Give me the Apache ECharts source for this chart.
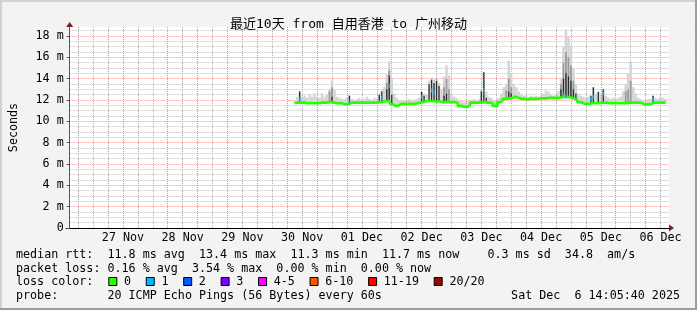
<!DOCTYPE html>
<html><head><meta charset="utf-8">
<script src="https://cdn.jsdelivr.net/npm/echarts@6/dist/echarts.min.js"></script>
<style>html,body{margin:0;padding:0;background:#f3f3f3}#c{width:697px;height:310px}</style>
</head><body><div id="c"></div>
<script>
// ---- data (hours counted from 27 Nov 00:00) ----
const startHour = 81; // first sample: 30 Nov 09:00, hourly samples
const median = [
 11.7, 11.75, 11.75, 11.75, 11.75, 11.7, 11.7, 11.7, 11.7, 11.7,
 11.7, 11.75, 11.75, 11.75, 11.8, 11.8, 11.75, 11.7, 11.7, 11.7,
 11.6, 11.6, 11.65, 11.75, 11.75, 11.75, 11.75, 11.75, 11.75, 11.75,
 11.75, 11.75, 11.75, 11.75, 11.8, 11.8, 11.85, 11.9, 11.9, 11.6,
 11.45, 11.45, 11.6, 11.65, 11.65, 11.65, 11.65, 11.65, 11.65, 11.7,
 11.75, 11.8, 11.85, 11.9, 11.9, 11.9, 11.85, 11.85, 11.85, 11.8,
 11.8, 11.8, 11.8, 11.8, 11.8, 11.7, 11.45, 11.4, 11.35, 11.35,
 11.5, 11.75, 11.75, 11.75, 11.75, 11.8, 11.8, 11.75, 11.75, 11.7,
 11.45, 11.45, 11.8, 11.9, 12.1, 12.15, 12.15, 12.2, 12.3, 12.25,
 12.15, 12.1, 12.1, 12.05, 12.1, 12.1, 12.1, 12.1, 12.15, 12.15,
 12.15, 12.15, 12.2, 12.2, 12.2, 12.2, 12.2, 12.25, 12.3, 12.3,
 12.25, 12.2, 12.1, 12.0, 11.8, 11.75, 11.65, 11.65, 11.65, 11.7,
 11.7, 11.7, 11.7, 11.75, 11.75, 11.75, 11.7, 11.7, 11.7, 11.7,
 11.7, 11.7, 11.7, 11.7, 11.75, 11.75, 11.75, 11.75, 11.75, 11.7,
 11.6, 11.6, 11.6, 11.65, 11.75, 11.75, 11.75, 11.75, 11.75, 11.75
];
const smokeMax = [
 11.9, 12.3, 12.8, 12.3, 12.4, 12.2, 12.5, 12.3, 12.6, 12.3,
 12.2, 12.6, 12.3, 12.5, 13.0, 13.85, 13.0, 12.3, 12.2, 12.1,
 12.1, 12.2, 12.4, 12.1, 12.0, 12.1, 12.2, 12.0, 12.1, 12.3,
 12.1, 12.0, 12.2, 12.1, 12.6, 12.9, 13.2, 14.4, 15.6, 14.0,
 12.6, 12.2, 12.0, 12.0, 11.9, 12.0, 12.1, 11.9, 12.0, 12.1,
 12.2, 12.75, 12.6, 12.5, 13.8, 14.1, 13.9, 14.0, 13.6, 13.0,
 14.2, 15.25, 14.3, 12.6, 12.3, 12.2, 12.0, 11.9, 11.8, 11.9,
 12.0, 12.0, 12.1, 12.0, 12.1, 13.0, 14.6, 12.8, 12.3, 12.2,
 12.0, 12.0, 12.2, 12.6, 13.2, 13.4, 15.7, 14.5, 13.5, 13.2,
 12.8, 12.5, 12.4, 12.4, 12.3, 12.4, 12.3, 12.4, 12.3, 12.4,
 12.6, 12.9, 12.8, 12.5, 12.4, 12.5, 12.8, 14.0, 17.0, 18.6,
 17.9, 17.0, 15.0, 13.5, 12.6, 12.4, 12.3, 12.2, 12.3, 12.4,
 13.2, 12.6, 12.8, 12.6, 13.0, 12.4, 12.2, 12.1, 12.2, 12.1,
 12.2, 12.3, 12.8, 13.5, 14.5, 15.6, 13.2, 12.6, 12.2, 12.1,
 12.0, 12.0, 12.1, 12.1, 12.4, 12.2, 12.1, 12.3, 12.2, 12.1
];
const midSmoke = [[95,12.8],[96,13.2],[118,13.6],[119,14.8],[141,13.2],[142,14.0],[143,13.0],
 [166,12.9],[167,14.0],[168,13.2],[188,13.5],[189,15.5],[190,16.5],[191,16.0],[192,15.2],[193,13.8],
 [214,12.8],[215,13.0],[216,13.8]];
const darkSpikes = [[83,12.8],[96,12.3],[103,12.4],[115,12.5],[116,12.8],[118,13.0],[119,14.3],[120,12.5],
 [132,12.75],[133,12.4],[135,13.5],[136,13.9],[137,13.6],[138,13.8],[139,13.3],[141,12.4],[142,12.6],
 [156,12.8],[157,14.6],[158,12.2],[167,12.8],[168,12.6],[188,13.0],[189,14.0],[190,14.5],[191,14.2],
 [192,13.8],[193,13.0],[194,12.6],[200,12.4],[201,13.2],[203,12.75],[205,13.0],[225,12.4]];
const lossMarks = [[83,12.1],[103,11.75],[116,12.2],[119,13.3],[132,12.3],[136,12.9],[137,12.7],
 [157,12.9],[189,12.5],[190,12.3],[200,12.1],[201,12.3],[205,12.6],[225,12.0]];

const dayLabels = ['27 Nov','28 Nov','29 Nov','30 Nov','01 Dec','02 Dec','03 Dec','04 Dec','05 Dec','06 Dec'];
const dayLabelHours = [12,36,60,84,108,132,156,180,204,228];
const dayStartHours = [0,24,48,72,96,120,144,168,192,216];
const yMajor = [0,2,4,6,8,10,12,14,16,18];

const titleText = '最近10天 from 自用香港 to 广州移动';
const rttStats = ['11.8','13.4','11.3','11.7','0.3','34.8'];
const lossStats = ['0.16','3.54','0.00','0.00'];
const lossColors = [['0','#26ff00'],['1','#00b8ff'],['2','#0059ff'],['3','#7e00ff'],['4-5','#ff00ff'],['6-10','#ff5500'],['11-19','#ff0000'],['20/20','#a10000']];
const probeText = '20 ICMP Echo Pings (56 Bytes) every 60s';
const stampText = 'Sat Dec  6 14:05:40 2025';

// ---- build ----
const MONO = "'DejaVu Sans Mono','Noto Sans CJK SC',monospace";
const FS = 11.7;
const quarterHours = []; for (let h = -6; h <= 228; h += 6) if (h % 24 !== 0) quarterHours.push(h);
const yMinor = []; for (let v = 0; v <= 18.5; v += 0.5) if (v % 2 !== 0) yMinor.push(v);

const hours = median.map((_, i) => startHour + i);
const medAt = h => median[h - startHour];
const lightData = hours.map((h, i) => [h, median[i], smokeMax[i]]);
const midData = midSmoke.map(([h, v]) => [h, medAt(h), v]);
const darkData = darkSpikes.map(([h, v]) => [h, medAt(h), v]);

function rects(data, color, frac, z) {
  return { type: 'custom', data, z, silent: true,
    renderItem(params, api) {
      const h = api.value(0), lo = api.value(1), hi = api.value(2);
      const a = api.coord([h - frac / 2, hi]), b = api.coord([h + frac / 2, lo]);
      return { type: 'rect', shape: { x: a[0], y: a[1], width: b[0] - a[0], height: b[1] - a[1] }, style: { fill: color } };
    } };
}

const chart = echarts.init(document.getElementById('c'), null, { renderer: 'canvas' });
const X0 = -9.4, X1 = 231.4, Y1 = 18.84;
const minorLine = { show: true, lineStyle: { color: '#c4c4c4', type: [1, 1], width: 1 } };
const majorLine = { show: true, lineStyle: { color: '#f09a9a', type: [1, 1], width: 1 } };
const option = {
  backgroundColor: '#f3f3f3',
  animation: false,
  title: { text: titleText, left: 'center', top: 13, textStyle: { fontFamily: MONO, fontSize: 13, fontWeight: 'normal', color: '#000' } },
  grid: { left: 67, right: 28, top: 27, bottom: 82, show: true, backgroundColor: '#fff', borderWidth: 0 },
  xAxis: {
    type: 'value', min: X0, max: X1, position: 'bottom',
    axisLine: { show: true, onZero: false, lineStyle: { color: '#000', width: 1 } },
    axisTick: { show: false, customValues: dayStartHours },
    axisLabel: { customValues: dayLabelHours, margin: 4, fontFamily: MONO, fontSize: FS, color: '#000',
      formatter: v => dayLabels[dayLabelHours.indexOf(v)] || '' },
    splitLine: majorLine },
  yAxis: [
    { type: 'value', min: 0, max: Y1, position: 'left',
      axisLine: { show: true, onZero: false, lineStyle: { color: '#555', width: 1 } },
      axisTick: { show: true, customValues: yMajor, length: 3, lineStyle: { color: '#555' } },
      axisLabel: { customValues: yMajor, margin: 6, fontFamily: MONO, fontSize: FS, color: '#000',
        formatter: v => v === 0 ? '0' : v + ' m' },
      splitLine: majorLine,
      name: 'Seconds', nameLocation: 'middle', nameGap: 50, nameRotate: 90,
      nameTextStyle: { fontFamily: MONO, fontSize: FS, color: '#000' } },
    { type: 'value', min: 0, max: Y1, position: 'right', axisLine: { show: false }, axisLabel: { show: false },
      axisTick: { show: false, customValues: yMinor }, splitLine: minorLine }
  ],
  series: [
    { type: 'line', silent: true, data: [], symbol: 'none',
      markLine: { silent: true, symbol: 'none', label: { show: false }, animation: false,
        lineStyle: { color: '#a8a8a8', type: [1, 1], width: 1 },
        emphasis: { disabled: true },
        data: quarterHours.map(h => ({ xAxis: h })) } },
    rects(lightData, '#d4d4d4', 1.0, 3),
    rects(midData, '#9a9a9a', 0.7, 4),
    rects(darkData, '#2a2a2a', 0.5, 5),
    { type: 'line', z: 6, step: 'middle', symbol: 'none', silent: true,
      data: hours.map((h, i) => [h, median[i]]), lineStyle: { color: '#26ff00', width: 2.6 } },
    { type: 'scatter', z: 7, silent: true, symbol: 'rect', symbolSize: [1.6, 4],
      itemStyle: { color: '#00b8ff' }, data: lossMarks }
  ]
};
chart.setOption(option);

// ---- legend / frame graphics ----
const ctx = document.createElement('canvas').getContext('2d');
ctx.font = FS + 'px ' + MONO;
const tw = s => ctx.measureText(s).width;
const lineY = [255, 268.5, 282, 295.5];
const L1 = `median rtt:  ${rttStats[0]} ms avg  ${rttStats[1]} ms max  ${rttStats[2]} ms min  ${rttStats[3]} ms now    ${rttStats[4]} ms sd  ${rttStats[5]}  am/s`;
const L2 = `packet loss: ${lossStats[0]} % avg  ${lossStats[1]} % max  ${lossStats[2]} % min  ${lossStats[3]} % now`;
const L4 = `probe:       ${probeText}`;
const txt = (x, y, s, extra) => Object.assign({ type: 'text', x, y, silent: true,
  style: Object.assign({ text: s, fontFamily: MONO, fontSize: FS, fill: '#000', textVerticalAlign: 'middle' }, extra || {}) });
const g = [
  { type: 'rect', shape: { x: 0, y: 0, width: 697, height: 2 }, style: { fill: '#d2d2d2' } },
  { type: 'rect', shape: { x: 0, y: 0, width: 2, height: 310 }, style: { fill: '#d2d2d2' } },
  { type: 'rect', shape: { x: 0, y: 308, width: 697, height: 2 }, style: { fill: '#9c9c9c' } },
  { type: 'rect', shape: { x: 695, y: 0, width: 2, height: 310 }, style: { fill: '#9c9c9c' } },
  txt(16, lineY[0], L1), txt(16, lineY[1], L2), txt(16, lineY[2], 'loss color:'), txt(16, lineY[3], L4),
  txt(680, lineY[3], stampText, { textAlign: 'right' }),
  { type: 'text', x: 693, y: 5, rotation: -Math.PI / 2, silent: true,
    style: { text: 'RRDTOOL / TOBI OETIKER', fontFamily: MONO, fontSize: 8.4, fill: '#a8a8a8', textVerticalAlign: 'bottom' } }
];
let bx = 108.3;
lossColors.forEach(([label, color]) => {
  g.push({ type: 'rect', shape: { x: bx + 0.5, y: lineY[2] - 4.5, width: 8, height: 8 }, style: { fill: color, stroke: '#000', lineWidth: 1 } });
  g.push(txt(bx + 15.7, lineY[2], label));
  bx += 15.7 + tw(label) + 14.7;
});
// axis arrows, placed through the chart's own scales
const xe = chart.convertToPixel({ xAxisIndex: 0 }, X1), y0 = chart.convertToPixel({ yAxisIndex: 0 }, 0);
const xs = chart.convertToPixel({ xAxisIndex: 0 }, X0), yt = chart.convertToPixel({ yAxisIndex: 0 }, Y1);
g.push({ type: 'polygon', silent: true, shape: { points: [[xe, y0 - 3.5], [xe + 5, y0], [xe, y0 + 3.5]] }, style: { fill: '#7f1f1f' } });
g.push({ type: 'polygon', silent: true, shape: { points: [[xs - 3.5, yt], [xs, yt - 5], [xs + 3.5, yt]] }, style: { fill: '#7f1f1f' } });
g.push({ type: 'line', silent: true, shape: { x1: xs - 4, y1: y0 + 0.5, x2: xs, y2: y0 + 0.5 }, style: { stroke: '#000', lineWidth: 1 } });
chart.setOption({ graphic: g });
</script></body></html>
